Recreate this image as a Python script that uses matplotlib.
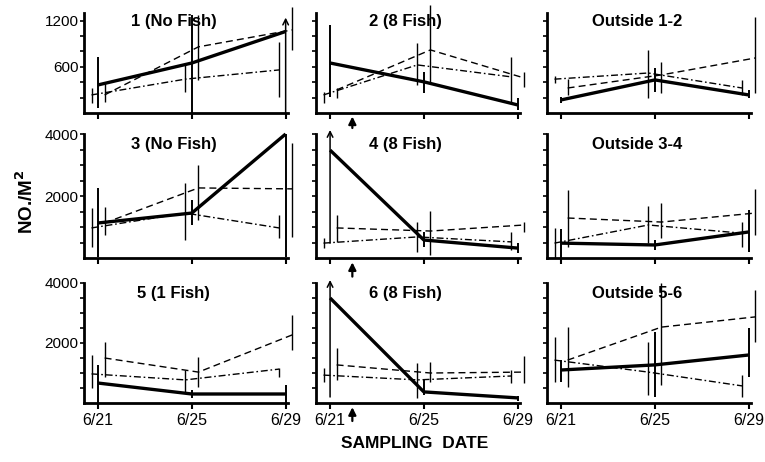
import numpy as np
import matplotlib
matplotlib.use("Agg")
import matplotlib.pyplot as plt

plt.rcParams['font.family'] = ['Liberation Sans', 'DejaVu Sans']

# sampling days (June)
days = [21, 25, 29]
date_labels = ["6/21", "6/25", "6/29"]

titles = ["1 (No Fish)", "2 (8 Fish)", "Outside 1-2",
          "3 (No Fish)", "4 (8 Fish)", "Outside 3-4",
          "5 (1 Fish)", "6 (8 Fish)", "Outside 5-6"]

# solid series: mean, lower and upper end of the vertical bar
solid_mean = [[365, 650, 1060], [650, 405, 105], [170, 430, 235],
              [1130, 1450, 4000], [3480, 580, 320], [480, 420, 840],
              [665, 300, 300], [3500, 370, 170], [1100, 1270, 1600]]
solid_lo = [[65, 0, 0], [210, 260, 40], [130, 275, 195],
            [30, 1065, 30], [480, 350, 160], [0, 260, 195],
            [0, 170, 0], [200, 270, 70], [700, 200, 870]]
solid_hi = [[730, 1280, 1240], [1150, 535, 195], [210, 585, 300],
            [2260, 1870, 4000], [4130, 840, 480], [935, 580, 1550],
            [1270, 430, 600], [4100, 770, 230], [1430, 2370, 2500]]

# dashed series
dash_mean = [[235, 860, 1080], [300, 820, 455], [325, 495, 715],
             [1130, 2260, 2230], [970, 870, 1065], [1290, 1160, 1450],
             [1500, 1030, 2270], [1270, 1000, 1030], [1430, 2530, 2870]]
dash_lo = [[143, 430, 820], [195, 390, 340], [235, 260, 260],
           [740, 1230, 680], [520, 100, 840], [355, 645, 740],
           [870, 530, 1770], [770, 700, 670], [530, 600, 2030]]
dash_hi = [[404, 1280, 1380], [326, 1400, 535], [440, 665, 1250],
           [1650, 3000, 3700], [1390, 1515, 1160], [2190, 1770, 2230],
           [2030, 1530, 2930], [1830, 1370, 1570], [2530, 4000, 3770]]

# dash-dot series
dot_mean = [[235, 440, 560], [235, 625, 470], [440, 520, 325],
            [970, 1450, 970], [480, 680, 520], [480, 1065, 800],
            [970, 770, 1130], [930, 770, 900], [1430, 1030, 570]]
dot_lo = [[130, 274, 209], [130, 365, 130], [390, 195, 235],
          [355, 580, 645], [320, 195, 260], [0, 480, 355],
          [500, 370, 870], [700, 170, 670], [700, 270, 200]]
dot_hi = [[326, 626, 926], [275, 910, 730], [480, 820, 430],
          [1610, 2420, 1390], [640, 1160, 840], [970, 1680, 1160],
          [1600, 1100, 1170], [1170, 1330, 1100], [2200, 2030, 930]]

# solid bars that run off the top (drawn with an arrow head): (panel, date index)
arrow_bars = [(0, 2), (4, 0), (7, 0)]
# panels with fish added (arrow under the axis) and the day it happened
fish_panels = [1, 4, 7]
fish_day = 21.95

row_ylim = [1300, 4000, 4000]
row_ticks = [np.arange(200, 1201, 200), np.arange(500, 4001, 500), np.arange(500, 4001, 500)]
row_labels = [[600, 1200], [2000, 4000], [2000, 4000]]

W, H = 765, 462
fig = plt.figure(figsize=(W / 100, H / 100), dpi=100)

col_left = [84, 316, 547]
ax_w = 204
row_bottom = [113, 258, 403]
row_h = [100, 124, 120]

dash_dx = 0.28
dot_dx = -0.28

for i in range(9):
    r, c = divmod(i, 3)
    ax = fig.add_axes([col_left[c] / W, (H - row_bottom[r]) / H, ax_w / W, row_h[r] / H])
    ax.set_xlim(20.4, 29.1)
    ax.set_ylim(0, row_ylim[r])
    for s in ['top', 'right']:
        ax.spines[s].set_visible(False)
    for s in ['left', 'bottom']:
        ax.spines[s].set_linewidth(2.0)

    x = np.array(days, dtype=float)
    # dash-dot series
    ax.plot(x + dot_dx, dot_mean[i], color='black', lw=1.0,
            dashes=(5, 2, 1.2, 2), clip_on=False)
    ax.vlines(x + dot_dx, dot_lo[i], dot_hi[i], color='black', lw=1.0, clip_on=False)
    # dashed series
    ax.plot(x + dash_dx, dash_mean[i], color='black', lw=1.0,
            dashes=(5, 3), clip_on=False)
    ax.vlines(x + dash_dx, dash_lo[i], dash_hi[i], color='black', lw=1.0, clip_on=False)
    # solid series
    ax.plot(x, solid_mean[i], color='black', lw=2.4, clip_on=False,
            solid_capstyle='butt')
    for j in range(3):
        if (i, j) in arrow_bars:
            ax.annotate("", xy=(x[j], solid_hi[i][j]), xytext=(x[j], solid_lo[i][j]),
                        arrowprops=dict(arrowstyle='->', color='black', lw=1.1,
                                        shrinkA=0, shrinkB=0, mutation_scale=10),
                        annotation_clip=False)
        else:
            ax.vlines(x[j], solid_lo[i][j], solid_hi[i][j], color='black',
                      lw=1.4, clip_on=False)

    ax.set_xticks(days)
    ax.tick_params(axis='x', direction='out', length=4, width=1.5)
    ax.tick_params(axis='y', direction='out', length=3, width=1.2, pad=1)
    ax.set_yticks(row_ticks[r])
    if c == 0:
        ax.set_yticklabels([str(v) if v in row_labels[r] else "" for v in row_ticks[r]],
                           fontsize=11)
    else:
        ax.set_yticklabels([])
    if r == 2:
        ax.set_xticklabels(date_labels, fontsize=11.5)
    else:
        ax.set_xticklabels([])

    ax.text(0.44, 0.915, titles[i], transform=ax.transAxes, ha='center', va='center',
            fontsize=12, fontweight='bold')

    if i in fish_panels:
        ax.annotate("", xy=(fish_day, -0.035), xytext=(fish_day, -0.15),
                    xycoords=('data', 'axes fraction'),
                    textcoords=('data', 'axes fraction'),
                    arrowprops=dict(arrowstyle='-|>', color='black', lw=1.6,
                                    shrinkA=0, shrinkB=0, mutation_scale=11),
                    annotation_clip=False)

fig.text(26 / W, 1 - 202 / H, r"NO./M$^{\mathbf{2}}$", rotation=90, ha='center', va='center',
         fontsize=13.5, fontweight='bold')
fig.text(415 / W, 1 - 443 / H, "SAMPLING  DATE", ha='center', va='center',
         fontsize=12.5, fontweight='bold')

fig.savefig("out.png", dpi=100, facecolor='white')
